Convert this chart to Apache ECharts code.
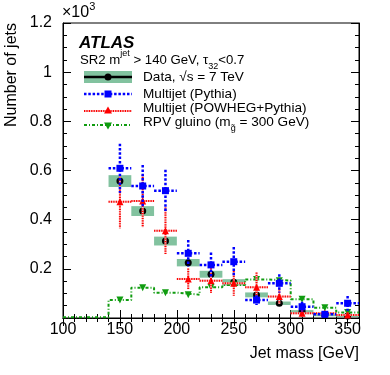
<!DOCTYPE html>
<html>
<head>
<meta charset="utf-8">
<script src="https://cdn.jsdelivr.net/npm/echarts@6.0.0/dist/echarts.min.js"></script>
<style>
  html, body { margin: 0; padding: 0; background: #fff; }
  #chart { width: 390px; height: 375px; }
</style>
</head>
<body>
<div id="chart"></div>
<script>
// jet mass bins, 20 GeV wide, values in units of 10^3 jets
const binCenters = [150, 170, 190, 210, 230, 250, 270, 290, 310, 330, 350];
const dataValues = [0.557, 0.435, 0.313, 0.225, 0.178, 0.145, 0.094, 0.060, 0.026, 0.012, 0.008];
const dataStat   = [0.012, 0.011, 0.009, 0.008, 0.007, 0.006, 0.005, 0.004, 0.003, 0.002, 0.002];
const dataSyst   = [0.024, 0.020, 0.018, 0.015, 0.014, 0.013, 0.010, 0.007, 0.006, 0.005, 0.004];
const pythiaValues = [0.609, 0.537, 0.518, 0.263, 0.216, 0.229, 0.073, 0.141, 0.046, 0.015, 0.060];
const pythiaErr    = [0.100, 0.085, 0.085, 0.054, 0.050, 0.060, 0.020, 0.037, 0.020, 0.010, 0.030];
const powhegValues = [0.473, 0.476, 0.355, 0.159, 0.152, 0.141, 0.125, 0.087, 0.019, 0.019, 0.012];
const powhegErr    = [0.108, 0.107, 0.095, 0.042, 0.050, 0.050, 0.060, 0.030, 0.015, 0.010, 0.010];
// RPV gluino histogram covers the full range 100-360
const rpvCenters = [110, 130, 150, 170, 190, 210, 230, 250, 270, 290, 310, 330, 350];
const rpvValues  = [0.003, 0.003, 0.073, 0.123, 0.103, 0.095, 0.125, 0.134, 0.157, 0.152, 0.076, 0.042, 0.022];
const xTicks = [100, 150, 200, 250, 300, 350];
const yTicks = [0.2, 0.4, 0.6, 0.8, 1, 1.2];

const HALF_BIN = 10;
const FONT = 'Liberation Sans';
const BLUE = '#0000ff', RED = '#ff0000', PINK = '#f7c0c0', GREEN = '#109c10', BOX = '#82c29f';

const chart = echarts.init(document.getElementById('chart'));

// error cross: horizontal bar over the bin, vertical bar for the error
function crossRenderer(color, dash, width, under) {
  return function (params, api) {
    const x = api.value(0), y = api.value(1), e = api.value(2);
    const l = api.coord([x - HALF_BIN, y]);
    const r = api.coord([x + HALF_BIN, y]);
    const t = api.coord([x, y + e]);
    const b = api.coord([x, y - e]);
    const children = [];
    const segs = [
      { x1: l[0], y1: l[1], x2: r[0], y2: r[1] },
      { x1: t[0], y1: t[1], x2: b[0], y2: b[1] }
    ];
    segs.forEach(s => {
      if (under) children.push({ type: 'line', shape: s, style: { stroke: under, lineWidth: width } });
      children.push({ type: 'line', shape: s, style: { stroke: color, lineWidth: width, lineDash: dash } });
    });
    return { type: 'group', children: children };
  };
}

function boxRenderer(params, api) {
  const x = api.value(0), y = api.value(1), e = api.value(2);
  const p0 = api.coord([x - HALF_BIN, y + e]);
  const p1 = api.coord([x + HALF_BIN, y - e]);
  return { type: 'rect', shape: { x: p0[0], y: p0[1], width: p1[0] - p0[0], height: p1[1] - p0[1] }, style: { fill: BOX } };
}

function statRenderer(params, api) {
  const x = api.value(0), y = api.value(1), e = api.value(2);
  const t = api.coord([x, y + e]), b = api.coord([x, y - e]);
  return { type: 'line', shape: { x1: t[0], y1: t[1], x2: b[0], y2: b[1] }, style: { stroke: '#000', lineWidth: 2 } };
}

// RPV step line built from bin edges
const rpvStep = rpvCenters.map((c, i) => [c - HALF_BIN, rpvValues[i]]);
rpvStep.push([rpvCenters[rpvCenters.length - 1] + HALF_BIN, rpvValues[rpvValues.length - 1]]);

const axisCommon = {
  type: 'value',
  axisLine: { show: true, lineStyle: { color: '#000', width: 1 } },
  axisTick: { show: true, inside: true, length: 8, lineStyle: { color: '#000' } },
  minorTick: { show: true, length: 4, lineStyle: { color: '#000' } },
  splitLine: { show: false },
  minorSplitLine: { show: false }
};

const xBase = Object.assign({}, axisCommon, {
  min: 100, max: 360, interval: 50,
  minorTick: Object.assign({}, axisCommon.minorTick, { splitNumber: 5 })
});
const yBase = Object.assign({}, axisCommon, {
  min: 0, max: 1.2, interval: 0.2,
  minorTick: Object.assign({}, axisCommon.minorTick, { splitNumber: 4 })
});

const legendY = { data: 77, pythia: 94, powheg: 111, rpv: 125 };
const textY = { data: 77.5, pythia: 94, powheg: 108.5, rpv: 122 };
const lx0 = 84, lx1 = 132, lxm = 108, tx = 143;
const legendText = { fontSize: 13.6, fontFamily: FONT, fill: '#000', verticalAlign: 'middle' };

const option = {
  backgroundColor: '#fff',
  animation: false,
  grid: { left: 63, right: 31, top: 23, bottom: 57, show: true, borderColor: '#000', borderWidth: 1, backgroundColor: 'transparent' },
  xAxis: [
    Object.assign({}, xBase, {
      position: 'bottom',
      axisLabel: {
        show: true, margin: 4, fontSize: 16, color: '#000', fontFamily: FONT,
        showMaxLabel: false,
        formatter: v => (xTicks.indexOf(v) >= 0 ? String(v) : '')
      }
    }),
    Object.assign({}, xBase, { position: 'top', axisLabel: { show: false } })
  ],
  yAxis: [
    Object.assign({}, yBase, {
      position: 'left',
      axisLabel: {
        show: true, margin: 11, fontSize: 16, color: '#000', fontFamily: FONT,
        showMinLabel: false,
        formatter: v => {
          const k = yTicks.find(t => Math.abs(t - v) < 1e-6);
          return k === undefined ? '' : String(k);
        }
      }
    }),
    Object.assign({}, yBase, { position: 'right', axisLabel: { show: false } })
  ],
  graphic: [
    { type: 'text', left: 62, top: 1, style: { text: '{a|×10}{s|3}', rich: { a: { fontSize: 16, fontFamily: FONT, fill: '#000', verticalAlign: 'bottom', lineHeight: 20 }, s: { fontSize: 11, fontFamily: FONT, fill: '#000', verticalAlign: 'top', lineHeight: 20 } } } },
    { type: 'text', x: 12, y: 23, rotation: Math.PI / 2, style: { text: 'Number of jets', fontSize: 16, fontFamily: FONT, fill: '#000', align: 'right', verticalAlign: 'middle' } },
    { type: 'text', x: 359, y: 354, style: { text: 'Jet mass [GeV]', fontSize: 16, fontFamily: FONT, fill: '#000', align: 'right', verticalAlign: 'middle' } },
    { type: 'text', x: 79, y: 43, style: { text: 'ATLAS', fontSize: 17, fontWeight: 'bold', fontStyle: 'italic', fontFamily: FONT, fill: '#000', verticalAlign: 'middle' } },
    { type: 'text', x: 80, y: 60, style: {
      text: '{n|SR2 m}{p|jet}{n| > 140 GeV, τ}{b|32}{n|<0.7}', verticalAlign: 'middle',
      rich: {
        n: { fontSize: 13.2, fontFamily: FONT, fill: '#000', lineHeight: 22, verticalAlign: 'middle' },
        p: { fontSize: 9, fontFamily: FONT, fill: '#000', lineHeight: 22, verticalAlign: 'top' },
        b: { fontSize: 9, fontFamily: FONT, fill: '#000', lineHeight: 22, verticalAlign: 'bottom' }
      } } },
    // legend: data
    { type: 'rect', shape: { x: lx0, y: legendY.data - 6, width: lx1 - lx0, height: 12 }, style: { fill: BOX } },
    { type: 'line', shape: { x1: lx0, y1: legendY.data, x2: lx1, y2: legendY.data }, style: { stroke: '#000', lineWidth: 2.5 } },
    { type: 'circle', shape: { cx: lxm, cy: legendY.data, r: 3.5 }, style: { fill: '#000' } },
    { type: 'text', x: tx, y: textY.data, style: Object.assign({ text: 'Data, √s = 7 TeV' }, legendText) },
    // legend: pythia
    { type: 'line', shape: { x1: lx0, y1: legendY.pythia, x2: lx1, y2: legendY.pythia }, style: { stroke: BLUE, lineWidth: 2.5, lineDash: [2.5, 1.8] } },
    { type: 'rect', shape: { x: lxm - 3.5, y: legendY.pythia - 3.5, width: 7, height: 7 }, style: { fill: BLUE } },
    { type: 'text', x: tx, y: textY.pythia, style: Object.assign({ text: 'Multijet (Pythia)' }, legendText) },
    // legend: powheg
    { type: 'line', shape: { x1: lx0, y1: legendY.powheg, x2: lx1, y2: legendY.powheg }, style: { stroke: PINK, lineWidth: 2 } },
    { type: 'line', shape: { x1: lx0, y1: legendY.powheg, x2: lx1, y2: legendY.powheg }, style: { stroke: RED, lineWidth: 2, lineDash: [1.2, 1.2] } },
    { type: 'polygon', shape: { points: [[lxm, legendY.powheg - 4.5], [lxm - 4, legendY.powheg + 2.5], [lxm + 4, legendY.powheg + 2.5]] }, style: { fill: RED } },
    { type: 'text', x: tx, y: textY.powheg, style: Object.assign({ text: 'Multijet (POWHEG+Pythia)' }, legendText) },
    // legend: rpv
    { type: 'line', shape: { x1: lx0, y1: legendY.rpv, x2: lx1, y2: legendY.rpv }, style: { stroke: GREEN, lineWidth: 2, lineDash: [3, 2, 1, 2] } },
    { type: 'polygon', shape: { points: [[lxm, legendY.rpv + 4.5], [lxm - 4, legendY.rpv - 2.5], [lxm + 4, legendY.rpv - 2.5]] }, style: { fill: GREEN } },
    { type: 'text', x: tx, y: textY.rpv, style: {
      text: '{n|RPV gluino (m}{b|g̃}{n| = 300 GeV)}', verticalAlign: 'middle',
      rich: {
        n: { fontSize: 13.6, fontFamily: FONT, fill: '#000', lineHeight: 22, verticalAlign: 'middle' },
        b: { fontSize: 9, fontFamily: FONT, fill: '#000', lineHeight: 22, verticalAlign: 'bottom' }
      } } }
  ],
  series: [
    {
      name: 'syst', type: 'custom', renderItem: boxRenderer, clip: true, z: 1,
      data: binCenters.map((c, i) => [c, dataValues[i], dataSyst[i]])
    },
    {
      name: 'data stat', type: 'custom', renderItem: statRenderer, clip: true, z: 2,
      data: binCenters.map((c, i) => [c, dataValues[i], dataStat[i]])
    },
    {
      name: 'data', type: 'scatter', symbol: 'circle', symbolSize: 7, z: 2,
      itemStyle: { color: '#000', opacity: 1 },
      data: binCenters.map((c, i) => [c, dataValues[i]])
    },
    {
      name: 'rpv hist', type: 'line', step: 'end', showSymbol: false, z: 3,
      lineStyle: { color: GREEN, width: 2, type: [3, 2, 1, 2] },
      data: rpvStep
    },
    {
      name: 'rpv', type: 'scatter', symbol: 'triangle', symbolRotate: 180, symbolSize: 7, z: 3,
      itemStyle: { color: GREEN, opacity: 1 },
      data: rpvCenters.map((c, i) => [c, rpvValues[i]]).filter(d => d[0] >= 150)
    },
    {
      name: 'powheg err', type: 'custom', renderItem: crossRenderer(RED, [1.2, 1.2], 2, PINK), clip: true, z: 4,
      data: binCenters.map((c, i) => [c, powhegValues[i], powhegErr[i]])
    },
    {
      name: 'powheg', type: 'scatter', symbol: 'triangle', symbolSize: 7, z: 4,
      itemStyle: { color: RED, opacity: 1 },
      data: binCenters.map((c, i) => [c, powhegValues[i]])
    },
    {
      name: 'pythia err', type: 'custom', renderItem: crossRenderer(BLUE, [2.5, 1.8], 2.5), clip: true, z: 5,
      data: binCenters.map((c, i) => [c, pythiaValues[i], pythiaErr[i]])
    },
    {
      name: 'pythia', type: 'scatter', symbol: 'rect', symbolSize: 7, z: 5,
      itemStyle: { color: BLUE, opacity: 1 },
      data: binCenters.map((c, i) => [c, pythiaValues[i]])
    }
  ]
};

chart.setOption(option);
</script>
</body>
</html>
